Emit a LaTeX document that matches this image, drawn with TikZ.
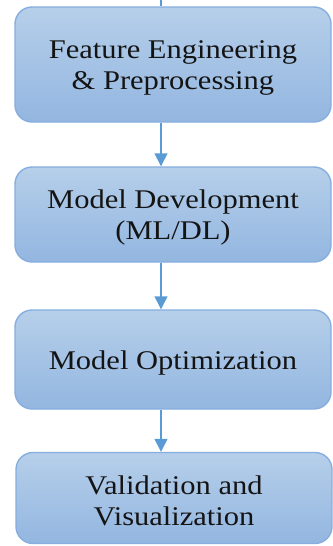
\documentclass[tikz,border=0pt]{standalone}
\usepackage{fontspec}
\setmainfont{Liberation Serif}
\newfontfamily\boxfont[FakeStretch=1.13]{Liberation Serif}
\usetikzlibrary{arrows.meta,shadings}
\definecolor{boxtop}{HTML}{B6CFEA}
\definecolor{boxbot}{HTML}{93B6E0}
\definecolor{boxline}{HTML}{86AEDF}
\definecolor{arrowc}{HTML}{5B9BD5}
\tikzset{
  stagebox/.style={rectangle, rounded corners=17pt, draw=boxline, line width=1.4pt,
    top color=boxtop, bottom color=boxbot, minimum width=316pt, inner sep=0pt},
  stagetext/.style={inner sep=0pt, align=center,
    font=\boxfont\fontsize{27}{31}\selectfont, text=black!92},
  flowarrow/.style={draw=arrowc, line width=1.4pt, -{Triangle[width=13pt,length=13pt]}}
}
\begin{document}
\begin{tikzpicture}[x=1pt,y=-1pt]
\useasboundingbox (0,0) rectangle (332,546);
\node[stagebox, minimum height=115pt] (b1) at (173,64.5) {};
\node[stagebox, minimum height=95pt] (b2) at (173,214.5) {};
\node[stagebox, minimum height=99pt] (b3) at (173,359.5) {};
\node[stagebox, minimum height=91pt] (b4) at (174,498) {};
\node[stagetext] (t1) at ([yshift=-3.5pt]b1.center) {Feature Engineering\\\& Preprocessing};
\node[stagetext] (t2) at ([yshift=-3.5pt]b2.center) {Model Development\\(ML/DL)};
\node[stagetext] (t3) at ([yshift=-3.5pt]b3.center) {Model Optimization};
\node[stagetext] (t4) at ([yshift=-2.5pt]b4.center) {Validation and\\Visualization};
\coordinate (ax) at (161,0);
\draw[draw=arrowc, line width=1.4pt] (ax) -- (b1.north -| ax);
\draw[flowarrow] (b1.south -| ax) -- (b2.north -| ax);
\draw[flowarrow] (b2.south -| ax) -- (b3.north -| ax);
\draw[flowarrow] (b3.south -| ax) -- (b4.north -| ax);
\end{tikzpicture}
\end{document}
